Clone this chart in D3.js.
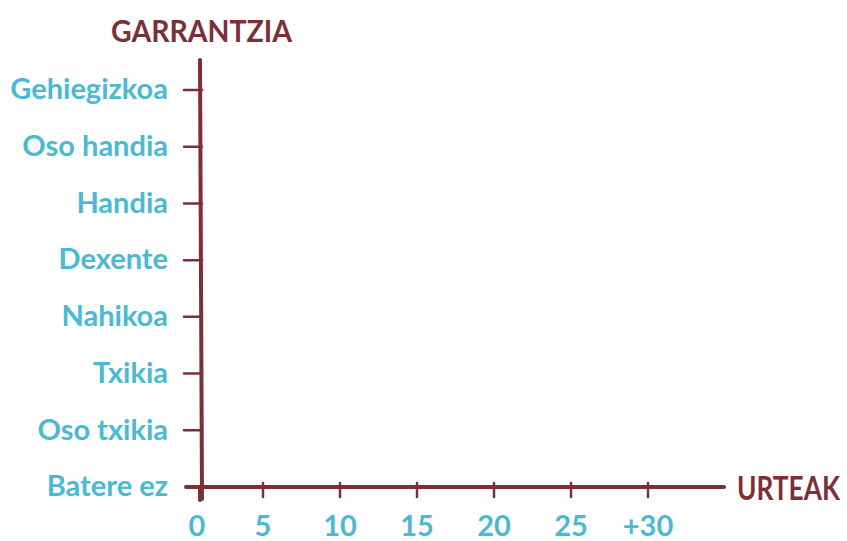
<!DOCTYPE html>
<html lang="eu">
<head>
<meta charset="utf-8">
<title>Garrantzia / Urteak</title>
<style>
  body { margin: 0; background: #fff; }
  text { font-family: Lato, "Open Sans", sans-serif; font-weight: 700; }
</style>
<script src="https://d3js.org/d3.v7.min.js"></script>
</head>
<body>
<svg id="chart" width="847" height="541"></svg>
<script>
// y categories, bottom to top
var levels = ["Batere ez", "Oso txikia", "Txikia", "Nahikoa", "Dexente", "Handia", "Oso handia", "Gehiegizkoa"];
// x ticks (years)
var years = [0, 5, 10, 15, 20, 25, 30];
var yearLabels = ["0", "5", "10", "15", "20", "25", "+30"];

var maroon = "#7b3036", cyan = "#4bb9d2";
var svg = d3.select("#chart");

// hand drawn: first step is a bit shorter than the rest
var x = d3.scaleLinear().domain([0, 5, 30]).range([200, 263, 648]);
var y = d3.scalePoint().domain(levels).range([487, 90]);

// y axis
svg.append("line")
  .attr("x1", 200).attr("x2", 202)
  .attr("y1", 60).attr("y2", 499)
  .attr("stroke", maroon).attr("stroke-width", 4).attr("stroke-linecap", "round");

// x axis
svg.append("line")
  .attr("x1", 186).attr("x2", 724)
  .attr("y1", 487).attr("y2", 487)
  .attr("stroke", maroon).attr("stroke-width", 4).attr("stroke-linecap", "round");

// y ticks + labels
var gy = svg.append("g");
gy.selectAll("line").data(levels.slice(1)).join("line")
  .attr("x1", 184).attr("x2", 202)
  .attr("y1", d => y(d)).attr("y2", d => y(d))
  .attr("stroke", maroon).attr("stroke-width", 2.5).attr("stroke-linecap", "round");
gy.selectAll("text").data(levels).join("text")
  .attr("x", 168).attr("y", d => y(d))
  .attr("dy", "0.32em")
  .attr("text-anchor", "end")
  .attr("fill", cyan).attr("font-size", 29)
  .text(d => d);

// x ticks + labels
var gx = svg.append("g");
gx.selectAll("line").data(years).join("line")
  .attr("x1", d => x(d)).attr("x2", d => x(d))
  .attr("y1", d => d === 0 ? 487 : 483).attr("y2", d => d === 0 ? 500 : 497)
  .attr("stroke", maroon).attr("stroke-width", d => d === 0 ? 4 : 2.5).attr("stroke-linecap", "round");
gx.selectAll("text").data(years).join("text")
  .attr("x", (d, i) => x(d) - (i === 0 ? 3 : 0)).attr("y", 536)
  .attr("text-anchor", "middle")
  .attr("fill", cyan).attr("font-size", 29)
  .text((d, i) => yearLabels[i]);

// axis titles
svg.append("text")
  .attr("x", 111).attr("y", 42)
  .attr("fill", maroon).attr("font-size", 31)
  .attr("textLength", 181).attr("lengthAdjust", "spacingAndGlyphs")
  .text("GARRANTZIA");
svg.append("text")
  .attr("transform", "translate(737,500) scale(0.82,1)")
  .attr("fill", maroon).attr("font-size", 32)
  .text("URTEAK");
</script>
</body>
</html>
